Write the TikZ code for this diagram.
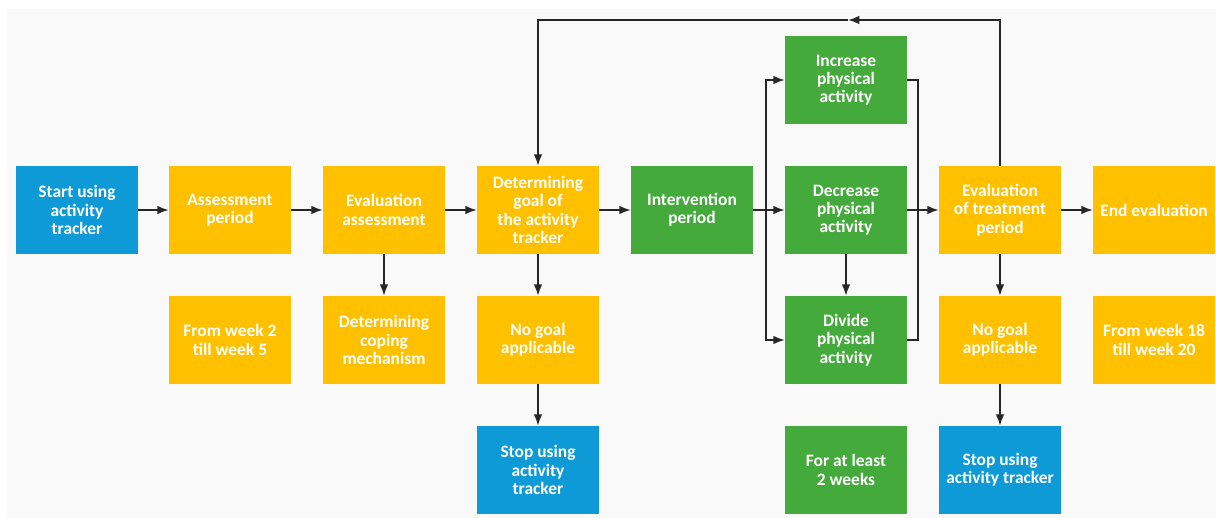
\documentclass[tikz,border=0pt]{standalone}
\usepackage{fontspec}
\setmainfont{Carlito}
\usetikzlibrary{arrows.meta}
\definecolor{trackblue}{HTML}{0E9AD7}
\definecolor{phaseorange}{HTML}{FFC000}
\definecolor{actgreen}{HTML}{44AA3C}
\definecolor{canvas}{HTML}{F9F9F9}

\begin{document}
\begin{tikzpicture}[
    x=0.025cm,
    y=-0.025cm,
    stage/.style={
        rectangle,
        minimum width=3.05cm,
        minimum height=2.2cm,
        inner sep=0pt,
        align=center,
        text=white,
        font=\bfseries\fontsize{12.4}{13}\selectfont
    },
    tracker/.style={
        stage,
        fill=trackblue
    },
    phase/.style={
        stage,
        fill=phaseorange
    },
    activity/.style={
        stage,
        fill=actgreen
    },
    flow/.style={
        -{Latex[length=8pt,width=6pt]},
        line width=1.1pt,
        black!85
    },
    plain/.style={
        -,
        line width=1.1pt,
        black!85
    }
]

\useasboundingbox (0,0) rectangle (1216,518);
\fill[white] (0,0) rectangle (1216,518);
\fill[canvas] (7,9) rectangle (1216,518);

% main row
\node[tracker] (start) at (77,210) {Start using\\activity\\tracker};
\node[phase] (assess) at (230,210) {Assessment\\period};
\node[phase] (evalA) at (384,210) {Evaluation\\assessment};
\node[phase] (goal) at (538,210) {Determining\\goal of\\the activity\\tracker};
\node[activity] (interv) at (692,210) {Intervention\\period};
\node[activity] (dec) at (846,210) {Decrease\\physical\\activity};
\node[phase] (evalT) at (1000,210) {Evaluation\\of treatment\\period};
\node[phase] (endE) at (1154,210) {End evaluation};

% other rows
\node[activity] (inc) at (846,80) {Increase\\physical\\activity};
\node[phase] (weeksA) at (230,340) {From week 2\\till week 5};
\node[phase] (coping) at (384,340) {Determining\\coping\\mechanism};
\node[phase] (nogoalA) at (538,340) {No goal\\applicable};
\node[activity] (div) at (846,340) {Divide\\physical\\activity};
\node[phase] (nogoalT) at (1000,340) {No goal\\applicable};
\node[phase] (weeksT) at (1154,340) {From week 18\\till week 20};
\node[tracker] (stopA) at (538,470) {Stop using\\activity\\tracker};
\node[activity] (least) at (846,470) {For at least\\2 weeks};
\node[tracker] (stopT) at (1000,470) {Stop using\\activity tracker};

\coordinate (branch) at (766,210);
\coordinate (merge) at (918,210);
\coordinate (loop) at (848,20);

\draw[flow] (start) -- (assess);
\draw[flow] (assess) -- (evalA);
\draw[flow] (evalA) -- (goal);
\draw[flow] (goal) -- (interv);
\draw[flow] (interv) -- (dec);
\draw[flow] (dec) -- (evalT);
\draw[flow] (evalT) -- (endE);

\draw[flow] (evalA) -- (coping);
\draw[flow] (goal) -- (nogoalA);
\draw[flow] (nogoalA) -- (stopA);
\draw[flow] (dec) -- (div);
\draw[flow] (evalT) -- (nogoalT);
\draw[flow] (nogoalT) -- (stopT);

\draw[flow] (branch) |- (inc.west);
\draw[flow] (branch) |- (div.west);
\draw[plain] (inc.east) -| (merge) |- (div.east);

\draw[flow] (evalT.north) |- (loop);
\draw[flow] (loop) -| (goal.north);

\end{tikzpicture}
\end{document}
